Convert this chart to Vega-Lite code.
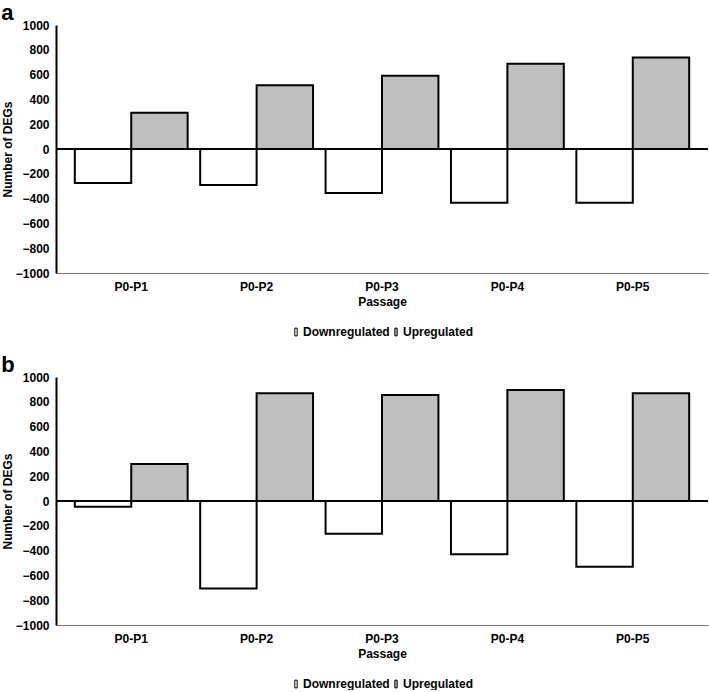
{
  "$schema": "https://vega.github.io/schema/vega-lite/v6.json",
  "padding": {"left": 1, "top": 2, "right": 0, "bottom": 0},
  "background": "white",
  "config": {
    "font": "Liberation Sans",
    "view": {"stroke": null},
    "concat": {"spacing": 16},
    "title": {"fontSize": 22, "fontWeight": "bold", "anchor": "start", "frame": "bounds", "offset": -6, "color": "black"},
    "axis": {"labelFont": "Liberation Sans", "labelFontWeight": "bold", "labelFontSize": 12, "labelColor": "black", "titleFont": "Liberation Sans", "titleFontWeight": "bold", "titleFontSize": 12, "titleColor": "black", "ticks": false, "tickSize": 0, "grid": false, "labelOverlap": false},
    "axisY": {"labelOverlap": false},
    "legend": {"labelFont": "Liberation Sans", "labelFontWeight": "bold", "labelFontSize": 12, "labelColor": "black", "layout": {"bottom": {"anchor": "middle"}}}
  },
  "data": {"values": [
    {"panel": "a", "Passage": "P0-P1", "Type": "Downregulated", "DEGs": -275},
    {"panel": "a", "Passage": "P0-P1", "Type": "Upregulated", "DEGs": 293},
    {"panel": "a", "Passage": "P0-P2", "Type": "Downregulated", "DEGs": -290},
    {"panel": "a", "Passage": "P0-P2", "Type": "Upregulated", "DEGs": 514},
    {"panel": "a", "Passage": "P0-P3", "Type": "Downregulated", "DEGs": -355},
    {"panel": "a", "Passage": "P0-P3", "Type": "Upregulated", "DEGs": 591},
    {"panel": "a", "Passage": "P0-P4", "Type": "Downregulated", "DEGs": -433},
    {"panel": "a", "Passage": "P0-P4", "Type": "Upregulated", "DEGs": 688},
    {"panel": "a", "Passage": "P0-P5", "Type": "Downregulated", "DEGs": -433},
    {"panel": "a", "Passage": "P0-P5", "Type": "Upregulated", "DEGs": 737},
    {"panel": "b", "Passage": "P0-P1", "Type": "Downregulated", "DEGs": -46},
    {"panel": "b", "Passage": "P0-P1", "Type": "Upregulated", "DEGs": 298},
    {"panel": "b", "Passage": "P0-P2", "Type": "Downregulated", "DEGs": -705},
    {"panel": "b", "Passage": "P0-P2", "Type": "Upregulated", "DEGs": 868},
    {"panel": "b", "Passage": "P0-P3", "Type": "Downregulated", "DEGs": -264},
    {"panel": "b", "Passage": "P0-P3", "Type": "Upregulated", "DEGs": 855},
    {"panel": "b", "Passage": "P0-P4", "Type": "Downregulated", "DEGs": -430},
    {"panel": "b", "Passage": "P0-P4", "Type": "Upregulated", "DEGs": 895},
    {"panel": "b", "Passage": "P0-P5", "Type": "Downregulated", "DEGs": -530},
    {"panel": "b", "Passage": "P0-P5", "Type": "Upregulated", "DEGs": 868}
  ]},
  "resolve": {"legend": {"fill": "independent"}, "scale": {"fill": "independent"}},
  "vconcat": [
    {
      "title": {"text": "a"},
      "width": 652,
      "height": 248,
      "transform": [{"filter": "datum.panel === 'a'"}],
      "layer": [
        {
          "mark": {"type": "bar", "stroke": "black", "strokeWidth": 2},
          "encoding": {
            "x": {"field": "Passage", "type": "nominal", "scale": {"paddingInner": 0.1, "paddingOuter": 0.15}, "axis": {"labelAngle": 0, "labelPadding": 8, "titlePadding": 4, "domainColor": "#777777", "domainWidth": 1}},
            "xOffset": {"field": "Type", "type": "nominal", "scale": {"padding": 0}},
            "y": {"field": "DEGs", "type": "quantitative", "title": "Number of DEGs", "scale": {"domain": [-1000, 1000], "nice": false}, "axis": {"values": [-1000, -800, -600, -400, -200, 0, 200, 400, 600, 800, 1000], "format": "d", "labelOverlap": false, "labelPadding": 7, "titlePadding": 1, "domainColor": "black", "domainWidth": 2}},
            "fill": {"field": "Type", "type": "nominal", "title": null, "scale": {"domain": ["Downregulated", "Upregulated"], "range": ["white", "#bfbfbf"]}, "legend": {"orient": "bottom", "direction": "horizontal", "symbolType": "M-0.3,-1H0.3V1H-0.3Z", "symbolSize": 60, "symbolStrokeColor": "black", "symbolStrokeWidth": 1, "labelOffset": 1, "columnPadding": 0, "offset": 19}}
          }
        },
        {
          "mark": {"type": "rule", "color": "black", "strokeWidth": 2},
          "encoding": {"y": {"datum": 0, "axis": {"values": [-1000, -800, -600, -400, -200, 0, 200, 400, 600, 800, 1000], "format": "d", "labelOverlap": false}}}
        }
      ]
    },
    {
      "title": {"text": "b"},
      "width": 652,
      "height": 248,
      "transform": [{"filter": "datum.panel === 'b'"}],
      "layer": [
        {
          "mark": {"type": "bar", "stroke": "black", "strokeWidth": 2},
          "encoding": {
            "x": {"field": "Passage", "type": "nominal", "scale": {"paddingInner": 0.1, "paddingOuter": 0.15}, "axis": {"labelAngle": 0, "labelPadding": 8, "titlePadding": 4, "domainColor": "#777777", "domainWidth": 1}},
            "xOffset": {"field": "Type", "type": "nominal", "scale": {"padding": 0}},
            "y": {"field": "DEGs", "type": "quantitative", "title": "Number of DEGs", "scale": {"domain": [-1000, 1000], "nice": false}, "axis": {"values": [-1000, -800, -600, -400, -200, 0, 200, 400, 600, 800, 1000], "format": "d", "labelOverlap": false, "labelPadding": 7, "titlePadding": 1, "domainColor": "black", "domainWidth": 2}},
            "fill": {"field": "Type", "type": "nominal", "title": null, "scale": {"domain": ["Downregulated", "Upregulated"], "range": ["white", "#bfbfbf"]}, "legend": {"orient": "bottom", "direction": "horizontal", "symbolType": "M-0.3,-1H0.3V1H-0.3Z", "symbolSize": 60, "symbolStrokeColor": "black", "symbolStrokeWidth": 1, "labelOffset": 1, "columnPadding": 0, "offset": 19}}
          }
        },
        {
          "mark": {"type": "rule", "color": "black", "strokeWidth": 2},
          "encoding": {"y": {"datum": 0, "axis": {"values": [-1000, -800, -600, -400, -200, 0, 200, 400, 600, 800, 1000], "format": "d", "labelOverlap": false}}}
        }
      ]
    }
  ]
}
